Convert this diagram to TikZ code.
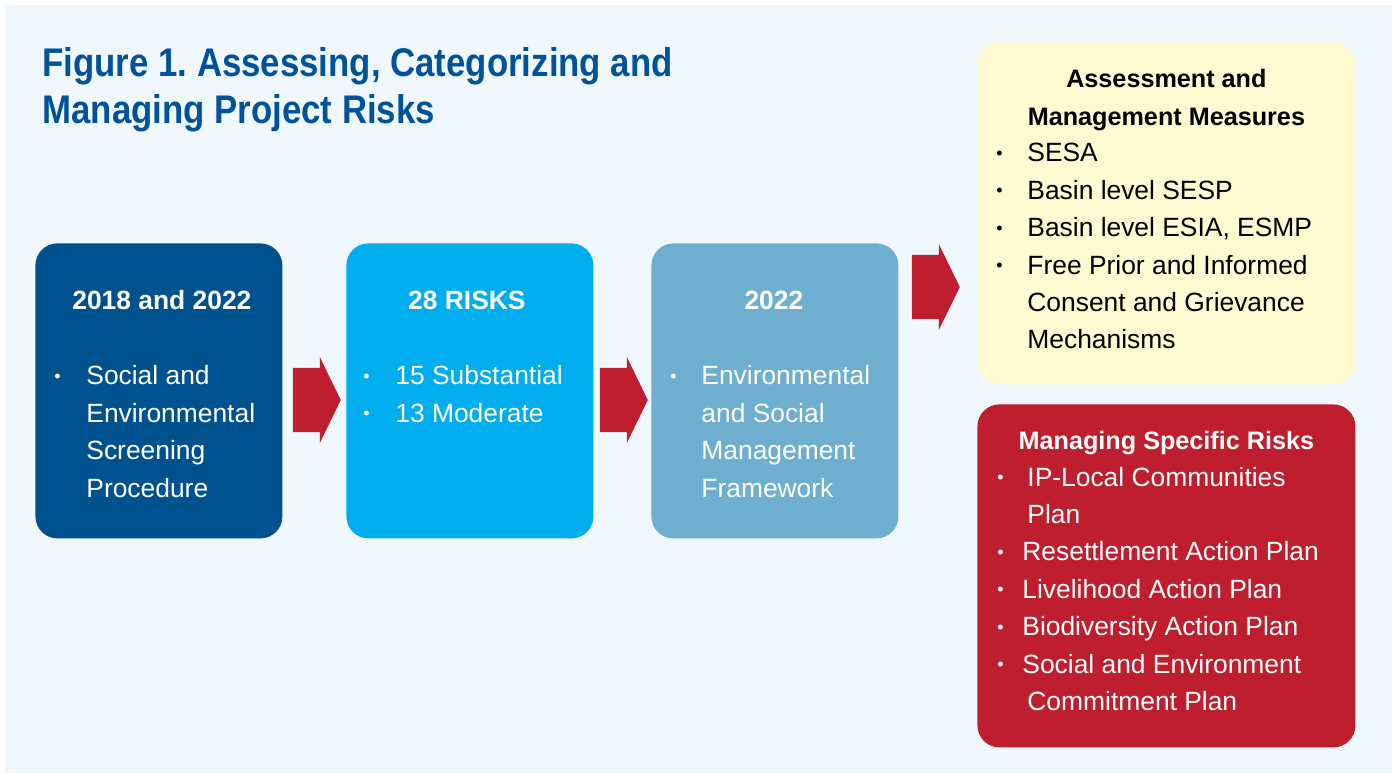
\documentclass[tikz,border=0pt]{standalone}
\usepackage{fontspec}
\setmainfont{Liberation Sans}
\newfontfamily\titlefont[FakeStretch=0.87]{Liberation Sans}
\usetikzlibrary{calc}
\definecolor{bgblue}{HTML}{F0F8FE}
\definecolor{titleblue}{HTML}{00539B}
\definecolor{navybox}{HTML}{00528F}
\definecolor{cyanbox}{HTML}{00AEEF}
\definecolor{steelbox}{HTML}{6EAECE}
\definecolor{creambox}{HTML}{FFFAD2}
\definecolor{arrowred}{HTML}{BE1E2D}
\tikzset{
  box/.style={rounded corners=11pt, minimum width=123.5pt, minimum height=147.5pt,
    anchor=north west, inner sep=0pt},
  sidebox/.style={box, minimum width=189pt, minimum height=171pt},
  boxhead/.style={anchor=base, inner sep=0pt, text=white,
    font=\bfseries\fontsize{13.2}{18.7}\selectfont},
  boxlist/.style={anchor=base west, inner sep=0pt, text=white,
    font=\fontsize{13.2}{18.7}\selectfont},
}
\newcommand{\bul}{\raisebox{1.2pt}{\fontsize{9}{9}\selectfont\textbullet}}
% block arrow, starts at the middle of its left end
\newcommand{\redarrow}[1]{\fill[arrowred] (#1) ++(0,-32) -- ++(27,0) -- ++(0,-11)
  -- ++(21,43) -- ++(-21,43) -- ++(0,-11) -- ++(-27,0) -- cycle;}
\begin{document}
\begin{tikzpicture}[x=0.5pt,y=-0.5pt]
% canvas in pixels, y going down
\useasboundingbox (0,0) rectangle (1395,774);
\fill[bgblue] (5,5) rectangle (1392,773);
% title
\node[anchor=base west, inner sep=0pt, text=titleblue,
  font=\titlefont\bfseries\fontsize{20}{23.3}\selectfont] (title) at (42,77)
  {\begin{tabular}[t]{@{}l@{}}Figure 1.\ Assessing, Categorizing and\\Managing Project Risks\end{tabular}};
% the three steps
\node[box, fill=navybox] (b1) at (35,243) {};
\node[box, fill=cyanbox] (b2) at (346,243) {};
\node[box, fill=steelbox] (b3) at (651,243) {};
\node[boxhead] (h1) at ($(b1.north)+(3,67)$) {2018 and 2022};
\node[boxhead] (h2) at ($(b2.north)+(-3,67)$) {28 RISKS};
\node[boxhead] (h3) at ($(b3.north)+(-1,67)$) {2022};
\node[boxlist] (l1) at ($(b1.north west)+(19,142)$)
  {\begin{tabular}[t]{@{}p{16pt}@{}l@{}}\bul & Social and\\ & Environmental\\ & Screening\\ & Procedure\end{tabular}};
\node[boxlist] (l2) at ($(b2.north west)+(17,142)$)
  {\begin{tabular}[t]{@{}p{16pt}@{}l@{}}\bul & 15 Substantial\\ \bul & 13 Moderate\end{tabular}};
\node[boxlist] (l3) at ($(b3.north west)+(19,142)$)
  {\begin{tabular}[t]{@{}p{15.5pt}@{}l@{}}\bul & Environmental\\ & and Social\\ & Management\\ & Framework\end{tabular}};
% measures on the right
\node[sidebox, fill=creambox] (m1) at (977,42) {};
\node[sidebox, fill=arrowred, minimum height=171.5pt] (m2) at (977,404) {};
\node[boxhead, text=black, font=\bfseries\fontsize{12.6}{18.7}\selectfont] (mh1) at ($(m1.north)+(0,46)$)
  {\begin{tabular}[t]{@{}c@{}}Assessment and\\Management Measures\end{tabular}};
\node[boxhead, font=\bfseries\fontsize{12.6}{18.7}\selectfont] (mh2) at ($(m2.north)+(0,45)$)
  {Managing Specific Risks};
\node[boxlist, text=black] (ml1) at ($(m1.north west)+(19,120)$)
  {\begin{tabular}[t]{@{}p{15.5pt}@{}l@{}}\bul & SESA\\ \bul & Basin level SESP\\ \bul & Basin level ESIA, ESMP\\
   \bul & Free Prior and Informed\\ & Consent and Grievance\\ & Mechanisms\end{tabular}};
\node[boxlist] (ml2) at ($(m2.north west)+(20,82)$)
  {\begin{tabular}[t]{@{}p{15pt}@{}l@{}}\bul & IP-Local Communities\\ & Plan\\
   \bul & \hspace{-2.5pt}Resettlement Action Plan\\ \bul & \hspace{-2.5pt}Livelihood Action Plan\\
   \bul & \hspace{-2.5pt}Biodiversity Action Plan\\ \bul & \hspace{-2.5pt}Social and Environment\\
   & Commitment Plan\end{tabular}};
% arrows between the boxes
\coordinate (a1) at ($(b1.north east)+(10,157)$);
\coordinate (a2) at ($(b2.north east)+(6,157)$);
\coordinate (a3) at ($(b3.north east)+(13,44)$);
\redarrow{a1}
\redarrow{a2}
\redarrow{a3}
\end{tikzpicture}
\end{document}
